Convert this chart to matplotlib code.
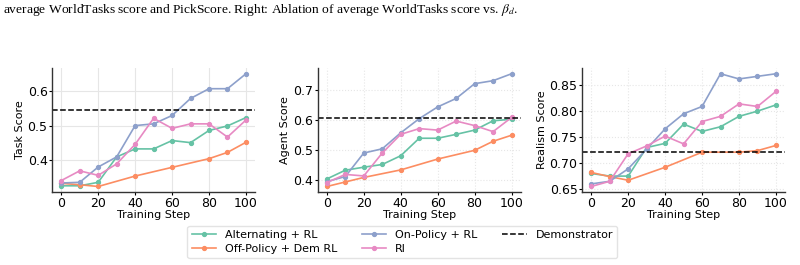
import matplotlib
matplotlib.use("Agg")
import matplotlib.pyplot as plt

plt.rcParams['font.family'] = ['DejaVu Sans']
plt.rcParams['mathtext.fontset'] = 'stix'

steps = [0, 10, 20, 30, 40, 50, 60, 70, 80, 90, 100]
steps_offpolicy = [0, 10, 20, 40, 60, 80, 90, 100]

# task score
task_alt = [0.327, 0.327, 0.337, 0.41, 0.433, 0.433, 0.457, 0.451, 0.486, 0.499, 0.523]
task_off = [0.334, 0.33, 0.325, 0.355, 0.38, 0.405, 0.423, 0.452]
task_on = [0.335, 0.337, 0.381, 0.41, 0.500, 0.505, 0.529, 0.578, 0.606, 0.606, 0.649]
task_rl = [0.342, 0.37, 0.357, 0.39, 0.446, 0.521, 0.492, 0.505, 0.505, 0.467, 0.516]
task_demo = 0.546

# agent score
agent_alt = [0.405, 0.434, 0.444, 0.453, 0.482, 0.54, 0.54, 0.553, 0.567, 0.598, 0.603]
agent_off = [0.38, 0.395, 0.41, 0.435, 0.471, 0.50, 0.53, 0.55]
agent_on = [0.396, 0.413, 0.491, 0.505, 0.558, 0.605, 0.644, 0.672, 0.721, 0.731, 0.754]
agent_rl = [0.393, 0.42, 0.415, 0.491, 0.553, 0.572, 0.567, 0.597, 0.582, 0.562, 0.609]
agent_demo = 0.606

# realism score
real_alt = [0.679, 0.674, 0.674, 0.729, 0.737, 0.774, 0.76, 0.769, 0.789, 0.799, 0.811]
real_off = [0.681, 0.673, 0.666, 0.691, 0.72, 0.72, 0.723, 0.733]
real_on = [0.659, 0.664, 0.688, 0.726, 0.765, 0.794, 0.808, 0.871, 0.861, 0.866, 0.871]
real_rl = [0.654, 0.664, 0.717, 0.732, 0.751, 0.736, 0.779, 0.789, 0.813, 0.808, 0.837]
real_demo = 0.72

labels = ['Alternating + RL', 'Off-Policy + Dem RL', 'On-Policy + RL', 'Rl']
colors = ['#66c2a5', '#fc8d62', '#8da0cb', '#e78ac3']

panels = [
    ('Task Score', [task_alt, task_off, task_on, task_rl], task_demo, '-', [0.4, 0.5, 0.6], '{:.1f}'),
    ('Agent Score', [agent_alt, agent_off, agent_on, agent_rl], agent_demo, ':', [0.4, 0.5, 0.6, 0.7], '{:.1f}'),
    ('Realism Score', [real_alt, real_off, real_on, real_rl], real_demo, ':', [0.65, 0.70, 0.75, 0.80, 0.85], '{:.2f}'),
]

fig = plt.figure(figsize=(8, 2.65), dpi=100)
fig.text(0.004, 0.951, "average WorldTasks score and PickScore. Right: Ablation of average WorldTasks score vs. $\\beta_d$.",
         family='Liberation Serif', fontsize=9.7, va='baseline', ha='left')

lefts = [0.065, 0.397, 0.7275]
handles = None
for left, (ylabel, series, demo, gstyle, yticks, fmt) in zip(lefts, panels):
    ax = fig.add_axes([left, 0.275, 0.254, 0.468])
    hs = []
    for i, (vals, lab, col) in enumerate(zip(series, labels, colors)):
        xs = steps_offpolicy if i == 1 else steps
        h, = ax.plot(xs, vals, color=col, lw=1.2, marker='o', ms=2.8, label=lab)
        hs.append(h)
    d = ax.axhline(demo, color='black', ls='--', lw=1.1, label='Demonstrator')
    hs.append(d)
    handles = hs
    ax.set_xticks([0, 20, 40, 60, 80, 100])
    ax.set_yticks(yticks)
    ax.set_yticklabels([fmt.format(t) for t in yticks])
    ax.tick_params(labelsize=9, length=2, width=0.8, pad=1.2)
    ax.set_xlabel('Training Step', fontsize=8, labelpad=0)
    ax.set_ylabel(ylabel, fontsize=8, labelpad=2)
    ax.grid(True, color='#e6e6e6', ls=gstyle, lw=0.8)
    ax.set_axisbelow(True)
    for s in ['top', 'right']:
        ax.spines[s].set_visible(False)
    for s in ['left', 'bottom']:
        ax.spines[s].set_color('#333333')
        ax.spines[s].set_linewidth(1.0)

fig.legend(handles, [h.get_label() for h in handles], loc='lower center', bbox_to_anchor=(0.503, 0.026),
           borderaxespad=0, ncol=3, fontsize=8, frameon=True, edgecolor='#dddddd', handlelength=2.2,
           handletextpad=0.8, columnspacing=2.2, borderpad=0.4, labelspacing=0.3)

fig.savefig('out.png', dpi=100)
